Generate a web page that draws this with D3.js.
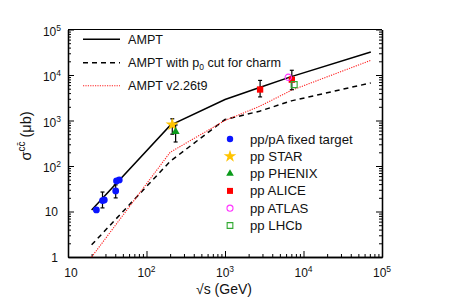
<!DOCTYPE html>
<html><head><meta charset="utf-8">
<script src="https://cdn.jsdelivr.net/npm/d3@7"></script>
<style>
html,body{margin:0;padding:0;background:#fff;}
svg{display:block;font-family:"Liberation Sans",Arial,Helvetica,sans-serif;}
</style></head>
<body>
<svg id="chart" width="449" height="304"></svg>
<script>
// ---- data ----
const energies = [20, 200, 1000, 2760, 7000, 72000];
const amptValues = [10.8, 780, 2900, 5300, 9200, 32000];
const amptP0Values = [1.85, 126, 1050, 1600, 2700, 6700];
const amptV226Values = [1.0, 200, 1000, 2050, 4600, 21000];

const fixedX = [23, 27.5, 29, 40.5, 41.5, 45];
const fixedY = [10.8, 17.4, 17.9, 28.3, 47, 49.5];
const fixedLo = [9.8, 12, 16.5, 19.9, 44, 46];
const fixedHi = [11.8, 26.8, 19.5, 38.5, 50, 53];

const starX = [213], starY = [810], starLo = [500], starHi = [1090];
const phenixX = [235], phenixY = [567], phenixLo = [337], phenixHi = [797];
const aliceX = [2800, 7100], aliceY = [4800, 7900], aliceLo = [3300, 4750], aliceHi = [7600, 12700];
const atlasX = [6400], atlasY = [8900];
const lhcbX = [7600], lhcbY = [6150];

const xTickExps = [1, 2, 3, 4, 5];
const yTickExps = [0, 1, 2, 3, 4, 5];

const lineLegend = ["AMPT", "AMPT with p|0| cut for charm", "AMPT v2.26t9"];
const dataLegend = ["pp/pA fixed target", "pp STAR", "pp PHENIX", "pp ALICE", "pp ATLAS", "pp LHCb"];

// ---- layout ----
const svg = d3.select("#chart");
const L = 68, R = 382, T = 29.5, B = 257;
const x = d3.scaleLog().domain([10, 1e5]).range([L, R]);
const y = d3.scaleLog().domain([1, 1e5]).range([B, T]);
const FONT = "Liberation Sans, Arial, sans-serif";

function minors(lo, hi) {
  const out = [];
  for (let e = lo; e < hi; e++) for (let m = 2; m <= 9; m++) out.push(m * Math.pow(10, e));
  return out;
}
const xMajor = xTickExps.map(e => Math.pow(10, e));
const yMajor = yTickExps.map(e => Math.pow(10, e));

function tickAxis(axisFn, scale, vals, size) {
  return axisFn(scale).tickValues(vals).tickSize(-size).tickSizeOuter(0).tickFormat("");
}
function styleAxis(g) {
  g.selectAll("path,line").attr("stroke", "#000").attr("stroke-width", 1);
}
// bottom
svg.append("g").attr("transform", `translate(0,${B})`).call(tickAxis(d3.axisBottom, x, xMajor, 6)).call(styleAxis);
svg.append("g").attr("transform", `translate(0,${B})`).call(tickAxis(d3.axisBottom, x, minors(1, 5), 3)).call(styleAxis);
// left
svg.append("g").attr("transform", `translate(${L},0)`).call(tickAxis(d3.axisLeft, y, yMajor, 6)).call(styleAxis);
svg.append("g").attr("transform", `translate(${L},0)`).call(tickAxis(d3.axisLeft, y, minors(0, 5), 3)).call(styleAxis);
// right
svg.append("g").attr("transform", `translate(${R},0)`).call(tickAxis(d3.axisRight, y, yMajor, 6)).call(styleAxis);
svg.append("g").attr("transform", `translate(${R},0)`).call(tickAxis(d3.axisRight, y, minors(0, 5), 3)).call(styleAxis);
// top line
svg.append("line").attr("x1", L).attr("x2", R).attr("y1", T).attr("y2", T).attr("stroke", "#000");
svg.selectAll(".domain").attr("stroke-width", 1.3);

// tick labels
xTickExps.forEach((e, i) => {
  const t = svg.append("text").attr("x", x(Math.pow(10, e)) + (e === 1 ? 3 : 0)).attr("y", 277)
    .attr("text-anchor", "middle").attr("font-size", 12).attr("font-family", FONT).attr("fill", "#111");
  t.append("tspan").text("10");
  if (e > 1) t.append("tspan").attr("font-size", 8.5).attr("dy", -5).text(e);
});
yTickExps.forEach(e => {
  const yy = y(Math.pow(10, e));
  if (e <= 1) {
    svg.append("text").attr("x", 58).attr("y", yy + 4.5).attr("text-anchor", "end")
      .attr("font-size", 12).attr("font-family", FONT).attr("fill", "#111").text(e === 0 ? "1" : "10");
  } else {
    const t = svg.append("text").attr("x", 61).attr("y", yy + 6).attr("text-anchor", "end")
      .attr("font-size", 12).attr("font-family", FONT).attr("fill", "#111");
    t.append("tspan").text("10");
    t.append("tspan").attr("font-size", 8.5).attr("dy", -5).text(e);
  }
});

// axis titles
const xt = svg.append("text").attr("x", 224).attr("y", 294).attr("text-anchor", "middle")
  .attr("font-size", 14).attr("font-family", FONT).attr("fill", "#111");
xt.append("tspan").text("\u221As (GeV)");
const yt = svg.append("text").attr("transform", "translate(31,136) rotate(-90)").attr("text-anchor", "middle")
  .attr("font-size", 14.5).attr("font-family", FONT).attr("fill", "#111");
yt.append("tspan").text("\u03C3");
yt.append("tspan").attr("font-size", 10).attr("dy", -6).text("cc\u0304");
yt.append("tspan").attr("dy", 6).text(" (\u03BCb)");

// ---- curves ----
const line = d3.line().x(d => x(d[0])).y(d => y(d[1]));
const series = [
  {vals: amptValues, color: "#000", width: 1.5, dash: null},
  {vals: amptP0Values, color: "#000", width: 1.5, dash: "5,4"},
  {vals: amptV226Values, color: "#ff2020", width: 1.1, dash: "1.2,1.2"}
];
series.forEach(s => {
  svg.append("path").datum(energies.map((e, i) => [e, s.vals[i]]))
    .attr("d", line).attr("fill", "none").attr("stroke", s.color)
    .attr("stroke-width", s.width).attr("stroke-dasharray", s.dash);
});

// ---- error bars ----
function errBars(xs, lo, hi) {
  xs.forEach((xv, i) => {
    const g = svg.append("g").attr("stroke", "#000").attr("stroke-width", 1.2);
    g.append("line").attr("x1", x(xv)).attr("x2", x(xv)).attr("y1", y(lo[i])).attr("y2", y(hi[i]));
    g.append("line").attr("x1", x(xv) - 2).attr("x2", x(xv) + 2).attr("y1", y(lo[i])).attr("y2", y(lo[i]));
    g.append("line").attr("x1", x(xv) - 2).attr("x2", x(xv) + 2).attr("y1", y(hi[i])).attr("y2", y(hi[i]));
  });
}
errBars(fixedX, fixedLo, fixedHi);
errBars(starX, starLo, starHi);
errBars(phenixX, phenixLo, phenixHi);
errBars(aliceX, aliceLo, aliceHi);

// ---- markers ----
const markers = [
  {name: "fixed", type: d3.symbolCircle, size: 36, fill: "#0a14ff", stroke: "none"},
  {name: "star", type: d3.symbolStar, size: 55, fill: "#ffc400", stroke: "none"},
  {name: "phenix", type: d3.symbolTriangle, size: 28, fill: "#0a9a1a", stroke: "none"},
  {name: "alice", type: d3.symbolSquare, size: 40, fill: "#ff0000", stroke: "none"},
  {name: "atlas", type: d3.symbolCircle, size: 32, fill: "none", stroke: "#ff33ff"},
  {name: "lhcb", type: d3.symbolSquare, size: 36, fill: "none", stroke: "#33aa33"}
];
const pts = [
  [fixedX, fixedY], [starX, starY], [phenixX, phenixY], [aliceX, aliceY], [atlasX, atlasY], [lhcbX, lhcbY]
];
function drawSym(m, px, py, scale) {
  svg.append("path").attr("d", d3.symbol().type(m.type).size(m.size * (scale || 1))())
    .attr("transform", `translate(${px},${py})`)
    .attr("fill", m.fill).attr("stroke", m.stroke).attr("stroke-width", 1.1);
}
pts.forEach((p, k) => {
  p[0].forEach((xv, i) => drawSym(markers[k], x(xv), y(p[1][i])));
});

// ---- legends ----
const legLines = [39.3, 62.7, 85.7];
lineLegend.forEach((lab, i) => {
  const s = series[i];
  svg.append("line").attr("x1", 83).attr("x2", 120).attr("y1", legLines[i]).attr("y2", legLines[i])
    .attr("stroke", s.color).attr("stroke-width", s.width).attr("stroke-dasharray", s.dash);
  const t = svg.append("text").attr("x", 128).attr("y", legLines[i] + 4.5)
    .attr("font-size", 12.6).attr("font-family", FONT).attr("fill", "#111");
  const parts = lab.split("|");
  t.append("tspan").text(parts[0]);
  if (parts.length > 1) {
    t.append("tspan").attr("font-size", 8.5).attr("dy", 3).text(parts[1]);
    t.append("tspan").attr("dy", -3).text(parts[2]);
  }
});
dataLegend.forEach((lab, i) => {
  const yy = 139 + i * 17.3;
  drawSym(markers[i], 230, yy, 0.9);
  svg.append("text").attr("x", 250).attr("y", yy + 4.5)
    .attr("font-size", 13.2).attr("font-family", FONT).attr("fill", "#111").text(lab);
});
</script>
</body></html>
